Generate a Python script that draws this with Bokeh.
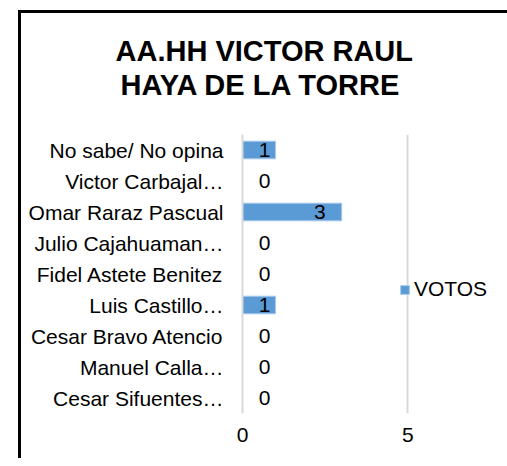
from bokeh.plotting import figure
from bokeh.models import (ColumnDataSource, FactorRange, Range1d, FixedTicker,
                          LabelSet, Legend, LegendItem, Title)
from bokeh.core.properties import value
from bokeh.embed import file_html
from bokeh.resources import INLINE

title_lines = ["AA.HH VICTOR RAUL", "HAYA DE LA TORRE"]
categories = ["No sabe/ No opina", "Victor Carbajal…", "Omar Raraz Pascual",
              "Julio Cajahuaman…", "Fidel Astete Benitez", "Luis Castillo…",
              "Cesar Bravo Atencio", "Manuel Calla…", "Cesar Sifuentes…"]
votes = [1, 0, 3, 0, 0, 1, 0, 0, 0]
series_name = "VOTOS"
x_ticks = [0, 5]

FONT = "Liberation Sans"
BAR = "#5B9BD5"

dx = [22 if v == 0 else -11 * min(v, 2) for v in votes]
src = ColumnDataSource(dict(cat=categories, votes=votes,
                            lbl=[str(v) for v in votes], dx=dx))

p = figure(width=489, height=448, output_backend="svg", toolbar_location=None,
           y_range=FactorRange(factors=categories[::-1], range_padding=0),
           x_range=Range1d(0, 7.65),
           min_border_left=221, min_border_right=15,
           min_border_top=121, min_border_bottom=48)
p.styles = {"border-left": "3px solid black", "border-top": "3px solid black"}
p.margin = (10, 0, 0, 18)
p.outline_line_color = None
p.background_fill_color = "white"
p.border_fill_color = "white"


def style_title(t, txt, off):
    t.text = txt
    t.text_font = FONT
    t.text_font_size = "29px"
    t.text_font_style = "bold"
    t.text_color = "black"
    t.align = "left"
    t.offset = off
    try:
        t.standoff = 0
    except AttributeError:
        pass


# p.title is drawn outermost (top); added titles stack outward from the frame
style_title(p.title, title_lines[0], -127)
spacer = Title()
style_title(spacer, " ", 0)
p.add_layout(spacer, "above")
t2 = Title()
style_title(t2, title_lines[1], -122)
p.add_layout(t2, "above")

r = p.hbar(y="cat", left=0, right="votes", height=0.57, source=src,
           fill_color=BAR, line_color="#A9CBEB", line_width=1)

p.add_layout(LabelSet(x="votes", y="cat", text="lbl", x_offset="dx", source=src,
                      text_align="center", text_baseline="middle",
                      text_font=value(FONT), text_font_size=value("21px"),
                      text_color="black"))

p.ygrid.visible = False
p.xgrid.ticker = FixedTicker(ticks=x_ticks)
p.xgrid.grid_line_color = "#D9D9D9"
p.xgrid.grid_line_width = 2

p.xaxis.ticker = FixedTicker(ticks=x_ticks)
p.xaxis.axis_line_color = None
p.xaxis.major_tick_line_color = None
p.xaxis.major_tick_out = 0
p.xaxis.minor_tick_line_color = None
p.xaxis.major_label_standoff = 14
p.xaxis.major_label_text_font = FONT
p.xaxis.major_label_text_font_size = "21px"
p.xaxis.major_label_text_color = "black"

p.yaxis.axis_line_color = "#D9D9D9"
p.yaxis.axis_line_width = 2
p.yaxis.major_tick_line_color = None
p.yaxis.major_tick_out = 0
p.yaxis.minor_tick_line_color = None
p.yaxis.major_label_standoff = 19
p.yaxis.major_label_text_font = FONT
p.yaxis.major_label_text_font_size = "21px"
p.yaxis.major_label_text_color = "black"

legend = Legend(items=[LegendItem(label=series_name, renderers=[r])],
                location=(157, 112), padding=0, margin=0, spacing=0,
                glyph_width=11, glyph_height=11, label_standoff=4,
                label_text_font=FONT, label_text_font_size="21px",
                label_text_color="black", border_line_color=None,
                background_fill_alpha=0)
p.add_layout(legend, "center")

open("out.html", "w").write(file_html(p, INLINE))
